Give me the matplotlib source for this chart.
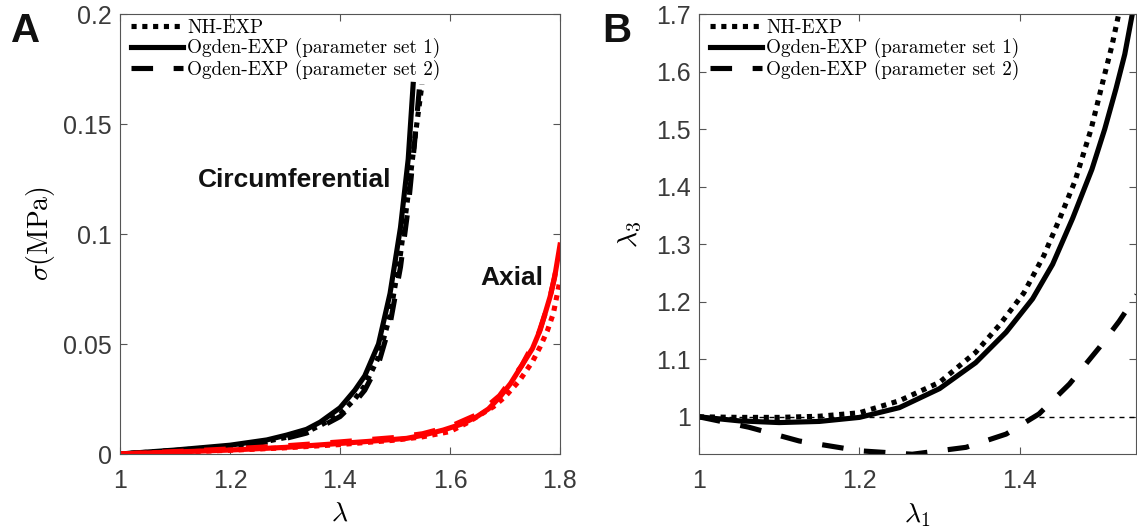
import matplotlib
matplotlib.use('Agg')
import matplotlib.pyplot as plt

plt.rcParams['mathtext.fontset'] = 'cm'
plt.rcParams['font.family'] = ['Liberation Sans', 'DejaVu Sans']

# panel A : stress-stretch, circumferential (black) and axial (red)
circ_og1_lam = [1.0, 1.1, 1.2, 1.267, 1.303, 1.339, 1.364, 1.4, 1.427, 1.445, 1.47, 1.491, 1.51, 1.524, 1.533]
circ_og1_sig = [0, 0.0018, 0.0040, 0.0064, 0.0086, 0.0112, 0.0145, 0.021, 0.029, 0.0355, 0.050, 0.073, 0.103, 0.134, 0.168]
circ_nh_lam = [1.0, 1.1, 1.2, 1.267, 1.303, 1.339, 1.364, 1.4, 1.427, 1.445, 1.47, 1.491, 1.51, 1.524, 1.537, 1.549]
circ_nh_sig = [0, 0.0016, 0.0036, 0.0058, 0.0076, 0.0100, 0.0130, 0.018, 0.025, 0.031, 0.044, 0.063, 0.091, 0.118, 0.145, 0.168]
circ_og2_lam = [1.0, 1.1, 1.2, 1.267, 1.303, 1.339, 1.364, 1.4, 1.427, 1.445, 1.47, 1.491, 1.51, 1.524, 1.535, 1.545]
circ_og2_sig = [0, 0.0015, 0.0034, 0.0055, 0.0072, 0.0095, 0.0122, 0.017, 0.0235, 0.029, 0.041, 0.059, 0.085, 0.112, 0.140, 0.168]

ax_og1_lam = [1.0, 1.1, 1.2, 1.3, 1.4, 1.45, 1.521, 1.55, 1.588, 1.62, 1.649, 1.67, 1.691, 1.71, 1.733, 1.75, 1.764, 1.782, 1.79, 1.8]
ax_og1_sig = [0, 0.0009, 0.0018, 0.0030, 0.0048, 0.0057, 0.0071, 0.0085, 0.0109, 0.0135, 0.017, 0.0205, 0.026, 0.032, 0.0412, 0.048, 0.0564, 0.0715, 0.080, 0.095]
ax_nh_lam = [1.0, 1.1, 1.2, 1.3, 1.4, 1.5, 1.55, 1.6, 1.63, 1.679, 1.7, 1.727, 1.75, 1.764, 1.777, 1.788, 1.8]
ax_nh_sig = [0, 0.0008, 0.0017, 0.0028, 0.0043, 0.0063, 0.0078, 0.0102, 0.014, 0.0215, 0.026, 0.0336, 0.042, 0.0488, 0.056, 0.064, 0.079]
ax_og2_lam = [1.0, 1.1, 1.2, 1.3, 1.4, 1.5, 1.55, 1.6, 1.65, 1.69, 1.73, 1.76, 1.78, 1.8]
ax_og2_sig = [0, 0.0011, 0.0023, 0.0037, 0.0055, 0.0075, 0.0092, 0.0125, 0.018, 0.0265, 0.040, 0.054, 0.069, 0.092]

# panel B : lambda_3 vs lambda_1
b_nh_l1 = [1.0, 1.05, 1.1, 1.15, 1.2, 1.25, 1.3, 1.345, 1.375, 1.405, 1.43, 1.45, 1.469, 1.489, 1.505, 1.515, 1.523]
b_nh_l3 = [1.0, 0.999, 0.999, 1.001, 1.007, 1.028, 1.060, 1.112, 1.160, 1.215, 1.280, 1.345, 1.410, 1.500, 1.590, 1.645, 1.697]
b_og1_l1 = [1.0, 1.05, 1.1, 1.15, 1.2, 1.25, 1.3, 1.345, 1.383, 1.416, 1.441, 1.466, 1.49, 1.506, 1.52, 1.531, 1.540]
b_og1_l3 = [1.0, 0.993, 0.990, 0.992, 0.999, 1.016, 1.049, 1.094, 1.147, 1.205, 1.265, 1.345, 1.430, 1.500, 1.570, 1.630, 1.697]
b_og2_l1 = [1.0, 1.062, 1.125, 1.2, 1.266, 1.333, 1.383, 1.424, 1.462, 1.499, 1.524, 1.546]
b_og2_l3 = [1.0, 0.982, 0.958, 0.941, 0.935, 0.947, 0.970, 1.005, 1.057, 1.120, 1.166, 1.212]

labels = ['NH-EXP', 'Ogden-EXP (parameter set 1)', 'Ogden-EXP (parameter set 2)']
lw = 3.7
dot = (0, (1.0, 1.1))
dash = (0, (4.2, 4.0))

fig = plt.figure(figsize=(11.37, 5.32), dpi=100)
axA = fig.add_axes([120/1137, 78/532, 440/1137, 440/532])
axB = fig.add_axes([699/1137, 78/532, 437/1137, 440/532])

# A
axA.plot(circ_og2_lam, circ_og2_sig, color='k', lw=lw, linestyle=dash)
axA.plot(circ_nh_lam, circ_nh_sig, color='k', lw=lw, linestyle=dot)
axA.plot(circ_og1_lam, circ_og1_sig, color='k', lw=lw, linestyle='-')
axA.plot(ax_og2_lam, ax_og2_sig, color='r', lw=lw, linestyle=dash)
axA.plot(ax_nh_lam, ax_nh_sig, color='r', lw=lw, linestyle=dot)
axA.plot(ax_og1_lam, ax_og1_sig, color='r', lw=lw, linestyle='-')
axA.set_xlim(1, 1.8)
axA.set_ylim(0, 0.2)
axA.set_xticks([1, 1.2, 1.4, 1.6, 1.8])
axA.set_xticklabels(['1', '1.2', '1.4', '1.6', '1.8'])
axA.set_yticks([0, 0.05, 0.1, 0.15, 0.2])
axA.set_yticklabels(['0', '0.05', '0.1', '0.15', '0.2'])
axA.set_xlabel(r'$\lambda$', fontsize=20, va='center')
axA.set_ylabel(r'$\sigma(\mathrm{MPa})$', fontsize=20, va='center')
axA.xaxis.set_label_coords(0.5, -0.135)
axA.yaxis.set_label_coords(-0.18, 0.5)
axA.text(1.142, 0.1245, 'Circumferential', fontsize=19, weight='bold', va='center', ha='left', color='#111111')
axA.text(1.655, 0.080, 'Axial', fontsize=19, weight='bold', va='center', ha='left', color='#111111')

# B
axB.axhline(1.0, color='k', lw=1.0, linestyle=(0, (3.6, 3.6)))
axB.plot(b_nh_l1, b_nh_l3, color='k', lw=lw, linestyle=dot)
axB.plot(b_og1_l1, b_og1_l3, color='k', lw=lw, linestyle='-')
axB.plot(b_og2_l1, b_og2_l3, color='k', lw=lw, linestyle=dash)
axB.set_xlim(1, 1.545)
axB.set_ylim(0.9354, 1.7)
axB.set_xticks([1, 1.2, 1.4])
axB.set_xticklabels(['1', '1.2', '1.4'])
axB.set_yticks([1, 1.1, 1.2, 1.3, 1.4, 1.5, 1.6, 1.7])
axB.set_yticklabels(['1', '1.1', '1.2', '1.3', '1.4', '1.5', '1.6', '1.7'])
axB.set_xlabel(r'$\lambda_1$', fontsize=20, va='center')
axB.set_ylabel(r'$\lambda_3$', fontsize=20, va='center')
axB.xaxis.set_label_coords(0.5, -0.139)
axB.yaxis.set_label_coords(-0.156, 0.5)

for ax in (axA, axB):
    for s in ax.spines.values():
        s.set_color('#555555')
        s.set_linewidth(0.8)
    ax.tick_params(direction='in', top=True, right=True, length=5, width=0.8,
                   color='#555555', labelcolor='#3a3a3a', labelsize=18)
    ax.tick_params(axis='x', pad=11)
    ax.tick_params(axis='y', pad=6)
    handles = [
        plt.Line2D([], [], color='k', lw=lw, linestyle=dot),
        plt.Line2D([], [], color='k', lw=lw, linestyle='-'),
        plt.Line2D([], [], color='k', lw=lw, linestyle=dash),
    ]
    ax.legend(handles, labels, loc='upper left', bbox_to_anchor=(0.015, 1.0),
              frameon=False, borderaxespad=0, borderpad=0.25,
              handlelength=2.7, handletextpad=0.2, labelspacing=0.08,
              prop={'family': 'cmr10', 'size': 13.8})

fig.text(11/1137, 1 - 12/532, 'A', fontsize=29, weight='bold', va='top', ha='left', color='#111111')
fig.text(602/1137, 1 - 12/532, 'B', fontsize=29, weight='bold', va='top', ha='left', color='#111111')

fig.savefig('out.png', dpi=100)
